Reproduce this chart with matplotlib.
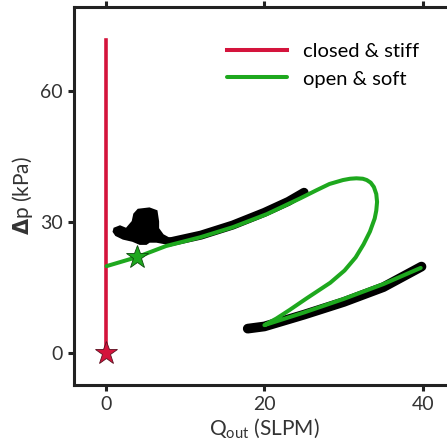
import numpy as np
import matplotlib
matplotlib.use('Agg')
import matplotlib.pyplot as plt

plt.rcParams['font.family'] = ['Lato', 'DejaVu Sans']
plt.rcParams['mathtext.fontset'] = 'custom'
plt.rcParams['mathtext.rm'] = 'Lato'
plt.rcParams['mathtext.bf'] = 'DejaVu Sans:bold'

red = '#d4143c'
green = '#1ea81e'
ink = '#222222'

# closed & stiff
closed_x = [0, 0]
closed_y = [0, 71.7]

# open & soft (model)
open_x = [0.1, 4.0, 7.6, 11.9, 16.0, 20.3, 24.5, 26.6, 28.2, 29.9, 30.8, 31.6, 32.4, 32.9,
          33.4, 33.8, 34.1, 34.2, 34.1, 33.9, 33.3, 32.5, 31.5, 30.1, 28.3, 25.3, 23.2,
          21.5, 20.0, 25.0, 30.0, 35.0, 39.7]
open_y = [19.9, 22.0, 24.5, 26.5, 28.8, 31.8, 35.4, 37.3, 38.7, 39.6, 39.9, 40.0, 39.9, 39.6,
          39.0, 38.0, 36.4, 34.6, 32.6, 30.8, 27.8, 24.9, 21.9, 18.9, 16.1, 12.5, 9.9,
          7.9, 6.4, 9.3, 12.4, 15.8, 19.5]

# experimental traces (black)
exp_up_x = [8.0, 12.0, 16.0, 20.0, 23.0, 25.0]
exp_up_y = [25.4, 27.0, 29.3, 32.2, 34.7, 36.8]
exp_lo_x = [17.9, 20.0, 25.0, 30.0, 35.0, 39.8]
exp_lo_y = [5.6, 6.1, 8.8, 11.7, 15.1, 19.8]
blob_x = [1.1, 1.8, 2.6, 3.4, 3.6, 4.1, 5.5, 6.4, 6.6, 6.6, 7.2, 7.9, 9.3,
          9.3, 7.6, 6.4, 5.5, 5.1, 4.3, 3.4, 2.2, 1.3, 1.0]
blob_y = [28.5, 29.0, 28.4, 30.1, 31.8, 32.8, 33.1, 32.5, 30.1, 28.5, 27.0, 26.3, 25.9,
          25.3, 25.1, 25.5, 25.5, 25.0, 25.0, 25.7, 26.2, 27.0, 27.8]

fig = plt.figure(figsize=(4.47, 4.48), dpi=100)
ax = fig.add_axes([0.1655, 0.1406, 0.852, 0.8438])

ax.fill(blob_x, blob_y, color='black', lw=1.5, zorder=2)
ax.plot(exp_up_x, exp_up_y, color='black', lw=6.5, solid_capstyle='round', zorder=2)
ax.plot(exp_lo_x, exp_lo_y, color='black', lw=7, solid_capstyle='round', zorder=2)

ax.plot(closed_x, closed_y, color=red, lw=2.6, label='closed & stiff', zorder=3)
ax.plot(open_x, open_y, color=green, lw=2.9, label='open & soft', zorder=3,
        solid_joinstyle='round', solid_capstyle='round')

ax.plot([0], [0], marker='*', ms=17, color=red, mec='#5a1020', mew=0.6, zorder=5)
ax.plot([3.9], [22.0], marker='*', ms=17, color=green, mec='#0b4a0b', mew=0.6, zorder=5)

ax.set_xlim(-4.0, 44.0)
ax.set_ylim(-7.3, 79.2)
ax.set_xticks([0, 20, 40])
ax.set_yticks([0, 30, 60])

for s in ax.spines.values():
    s.set_linewidth(2.2)
    s.set_color(ink)
ax.tick_params(direction='out', length=4, width=2.2, color=ink, labelcolor='#333333',
               labelsize=14, top=True, pad=4)

ax.set_xlabel(r'Q$_{\mathrm{out}}$ (SLPM)', fontsize=15, color='#333333', labelpad=3)
ax.set_ylabel(r'$\mathbf{\Delta}$p (kPa)', fontsize=15, color='#333333', labelpad=4)

leg = ax.legend(loc='upper left', bbox_to_anchor=(0.402, 0.904), frameon=False,
                fontsize=14.5, handlelength=3.0, handletextpad=0.75, labelspacing=0.5,
                borderpad=0, borderaxespad=0)
for line in leg.get_lines():
    line.set_linewidth(2.9)

fig.savefig('out.png', dpi=100)
